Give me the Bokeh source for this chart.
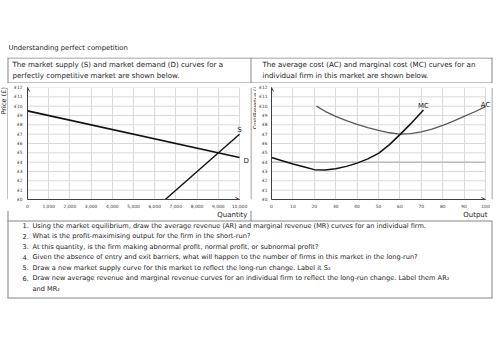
import math
from bokeh.plotting import figure
from bokeh.layouts import column, row
from bokeh.models import Label, Arrow, OpenHead, Range1d
from bokeh.embed import file_html
from bokeh.resources import INLINE
from bokeh.core.properties import value

FONT = "DejaVu Sans"
TEXT = "#1a1a1a"
BORDER = "#858585"
GRID = "#d9d9d9"

# ---------------- data ----------------
title_text = "Understanding perfect competition"
header_left = ["The market supply (S) and market demand (D) curves for a",
               "perfectly competitive market are shown below."]
header_right = ["The average cost (AC) and marginal cost (MC) curves for an",
                "individual firm in this market are shown below."]
question_numbers = ["1.", "2.", "3.", "4.", "5.", "6.", ""]
question_lines = [
    "Using the market equilibrium, draw the average revenue (AR) and marginal revenue (MR) curves for an individual firm.",
    "What is the profit-maximising output for the firm in the short-run?",
    "At this quantity, is the firm making abnormal profit, normal profit, or subnormal profit?",
    "Given the absence of entry and exit barriers, what will happen to the number of firms in this market in the long-run?",
    "Draw a new market supply curve for this market to reflect the long-run change. Label it S\u2082",
    "Draw new average revenue and marginal revenue curves for an individual firm to reflect the long-run change. Label them AR\u2082",
    "and MR\u2082",
]

# market
demand_q = [0, 10000]
demand_p = [9.5, 4.5]
supply_q = [6500, 10000]
supply_p = [0, 7]
qty_ticks = [0, 1000, 2000, 3000, 4000, 5000, 6000, 7000, 8000, 9000, 10000]
qty_labels = ["0", "1,000", "2,000", "3,000", "4,000", "5,000", "6,000", "7,000", "8,000", "9,000", "10,000"]
qty_view = (0, 10519)   # visible range (a little room right of the axis for labels)

# firm
ac_x = [21, 25, 30, 35, 40, 45, 50, 55, 60, 65, 70, 75, 80, 85, 90, 95, 100]
ac_y = [10.0, 9.45, 8.9, 8.45, 8.05, 7.7, 7.4, 7.15, 7.0, 7.05, 7.25, 7.55, 7.95, 8.4, 8.9, 9.4, 9.95]
mc_x = [0, 5, 10, 15, 20, 25, 30, 35, 40, 45, 50, 55, 60, 65, 71]
mc_y = [4.5, 4.15, 3.8, 3.5, 3.2, 3.15, 3.3, 3.55, 3.9, 4.35, 4.95, 5.85, 6.95, 8.1, 9.6]
out_ticks = [0, 10, 20, 30, 40, 50, 60, 70, 80, 90, 100]
out_labels = ["0", "10", "20", "30", "40", "50", "60", "70", "80", "90", "100"]
out_view = (0, 102.8)
firm_marked_level = 4

price_ticks = [0, 1, 2, 3, 4, 5, 6, 7, 8, 9, 10, 11, 12]
price_labels = ["£0", "£1", "£2", "£3", "£4", "£5", "£6", "£7", "£8", "£9", "£10", "£11", "£12"]


# ---------------- helpers ----------------
def pix_fig(w, h):
    p = figure(width=w, height=h, x_range=Range1d(0, w), y_range=Range1d(h, 0),
               output_backend="svg", toolbar_location=None, min_border=0,
               x_axis_location=None, y_axis_location=None, title=None)
    p.grid.visible = False
    p.outline_line_color = None
    return p


def ptext(p, xs, ys, texts, size, align="left", angle=0.0, color=TEXT):
    p.text(x=xs, y=ys, text=texts, text_font=value(FONT), text_font_size=size,
           text_align=align, text_baseline="middle", angle=angle, text_color=color)


def seg(p, x0, y0, x1, y1):
    p.segment(x0=x0, y0=y0, x1=x1, y1=y1, line_color=BORDER, line_width=1)


def chart_fig(w, h, view, left, ystandoff, xticks, xlabels):
    p = figure(width=w, height=h, x_range=Range1d(*view), y_range=Range1d(0, 12),
               output_backend="svg", toolbar_location=None, title=None,
               min_border_left=left, min_border_right=0,
               min_border_top=4, min_border_bottom=10)
    p.xaxis.ticker = xticks
    p.xaxis.major_label_overrides = dict(zip(xticks, xlabels))
    p.xaxis.bounds = (xticks[0], xticks[-1])
    p.yaxis.ticker = price_ticks
    p.yaxis.major_label_overrides = dict(zip(price_ticks, price_labels))
    for ax in (p.xaxis, p.yaxis):
        ax.major_tick_line_color = None
        ax.minor_tick_line_color = None
        ax.major_tick_out = 0
        ax.major_tick_in = 0
        ax.minor_tick_out = 0
        ax.minor_tick_in = 0
        ax.axis_line_color = "#404040"
        ax.major_label_text_font = FONT
        ax.major_label_text_font_size = "4.4px"
        ax.major_label_text_color = "#333333"
    p.xaxis.major_label_standoff = 4
    p.yaxis.major_label_standoff = ystandoff
    p.xgrid.ticker = xticks
    p.xgrid.grid_line_color = GRID
    p.ygrid.visible = False
    p.outline_line_color = None
    n = len(price_ticks)
    p.segment(x0=[xticks[0]] * n, y0=price_ticks, x1=[xticks[-1]] * n, y1=price_ticks,
              line_color=GRID, line_width=1)
    p.add_layout(Arrow(end=OpenHead(size=4, line_width=1, line_color="#404040"),
                       x_start=xticks[0], y_start=0, x_end=xticks[0], y_end=12,
                       line_color="#404040", line_width=1))
    p.add_layout(Arrow(end=OpenHead(size=4, line_width=1, line_color="#404040"),
                       x_start=xticks[0], y_start=0, x_end=xticks[-1], y_end=0,
                       line_color="#404040", line_width=1))
    return p


def curve_label(p, x, y, text, xo=0, yo=0, align="center"):
    p.add_layout(Label(x=x, y=y, text=text, x_offset=xo, y_offset=yo,
                       text_align=align, text_baseline="middle",
                       text_font=FONT, text_font_size="7px", text_color=TEXT))


# ---------------- title strip (y 0..57) ----------------
f_title = pix_fig(500, 57)
ptext(f_title, [8], [47], [title_text], "6.8px")

# ---------------- header strip (y 57..83) ----------------
f_head = pix_fig(500, 26)
seg(f_head, [7, 7], [0.5, 25.5], [492, 492], [0.5, 25.5])
seg(f_head, [7.5, 250.5, 491.5], [0, 0, 0], [7.5, 250.5, 491.5], [26, 26, 26])
ptext(f_head, [12, 12], [7, 18], header_left, "7.1px")
ptext(f_head, [262, 262], [7, 18], header_right, "7.1px")

# ---------------- chart row (y 83..210) ----------------
H = 127
m_left = pix_fig(8, H)
seg(m_left, [7.5], [0], [7.5], [H])
ptext(m_left, [3.5], [15], ["Price (£)"], "6.6px", align="center", angle=math.pi / 2)

pL = chart_fig(242, H, qty_view, 19, 5, qty_ticks, qty_labels)
pL.line(demand_q, demand_p, line_color="#111111", line_width=1.7)
pL.line(supply_q, supply_p, line_color="#111111", line_width=1.4)
curve_label(pL, supply_q[-1], supply_p[-1], "S", yo=4)
curve_label(pL, demand_q[-1], demand_p[-1], "D", xo=4, yo=-3.5, align="left")

divider = pix_fig(6, H)
seg(divider, [0.5], [0], [0.5], [H])
ptext(divider, [4], [21.5], ["Cost/Revenue (£)"], "5.3px", align="center", angle=math.pi / 2)

pR = chart_fig(235, H, out_view, 13, 4, out_ticks, out_labels)
pR.segment(x0=[out_ticks[0]], y0=[firm_marked_level], x1=[out_ticks[-1]], y1=[firm_marked_level],
           line_color="#a6a6a6", line_width=1)
pR.line(ac_x, ac_y, line_color="#595959", line_width=1.3)
pR.line(mc_x, mc_y, line_color="#111111", line_width=1.5)
curve_label(pR, mc_x[-1], mc_y[-1], "MC", yo=4)
curve_label(pR, ac_x[-1], ac_y[-1], "AC", yo=2)

m_right = pix_fig(9, H)
seg(m_right, [0.5], [0], [0.5], [H])

# ---------------- bottom strip (y 210..353) ----------------
f_q = pix_fig(500, 143)
seg(f_q, [7.5, 250.5, 491.5], [0, 0, 10.5], [7.5, 250.5, 491.5], [10.5, 10.5, 87.5])
seg(f_q, [7.5], [10.5], [7.5], [87.5])
seg(f_q, [7, 7], [10.5, 87.5], [492, 492], [10.5, 87.5])
ptext(f_q, [247, 487], [4.5, 4.5], ["Quantity", "Output"], "7px", align="right")
q_y = [15 + 10.5 * i for i in range(len(question_lines))]
ptext(f_q, [22] * len(question_numbers), q_y, question_numbers, "6.6px")
ptext(f_q, [32] * len(question_lines), q_y, question_lines, "6.6px")

layout = column(f_title, f_head, row(m_left, pL, divider, pR, m_right), f_q)

open("out.html", "w").write(file_html(layout, INLINE))
